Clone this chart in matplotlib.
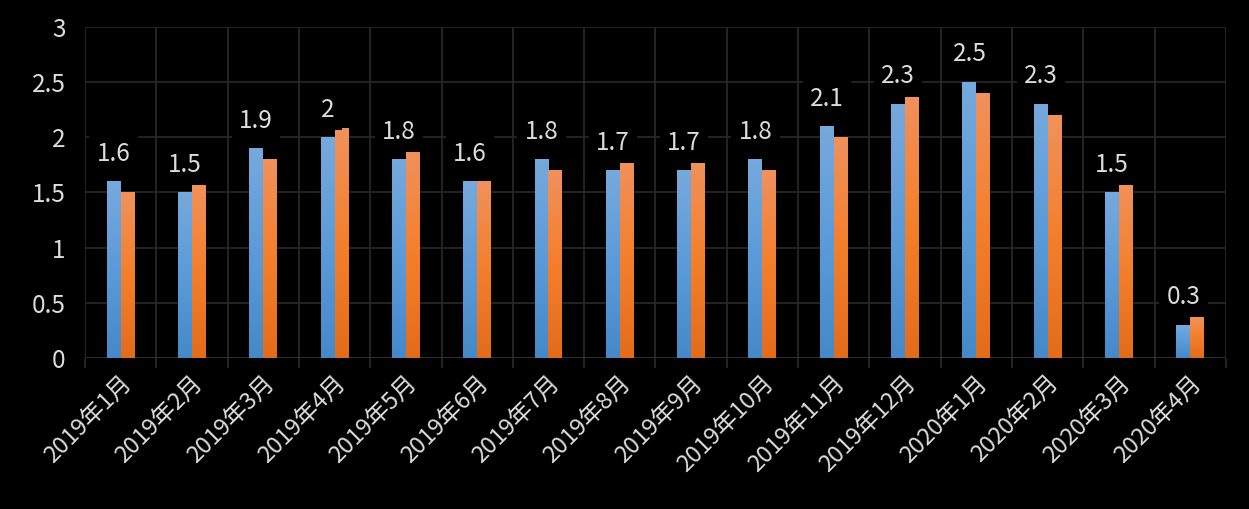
import matplotlib.pyplot as plt
import numpy as np
from matplotlib.colors import LinearSegmentedColormap

plt.rcParams['font.family'] = ['Noto Sans CJK SC', 'DejaVu Sans']

MONTHS = [
    "2019年1月", "2019年2月", "2019年3月", "2019年4月", "2019年5月", "2019年6月",
    "2019年7月", "2019年8月", "2019年9月", "2019年10月", "2019年11月", "2019年12月",
    "2020年1月", "2020年2月", "2020年3月", "2020年4月",
]
SERIES_A = [1.6, 1.5, 1.9, 2.0, 1.8, 1.6, 1.8, 1.7, 1.7, 1.8, 2.1, 2.3, 2.5, 2.3, 1.5, 0.3]
SERIES_B = [1.5, 1.58, 1.8, 2.08, 1.88, 1.6, 1.7, 1.78, 1.78, 1.7, 2.0, 2.38, 2.4, 2.2, 1.58, 0.38]
Y_TICKS = [0, 0.5, 1, 1.5, 2, 2.5, 3]

BG = "#000000"
FG = "#dcdcdc"
GRID = "#2a2a2a"

blue_cmap = LinearSegmentedColormap.from_list("blue", ["#4589c9", "#5b9bd9", "#76a9dd"])
orange_cmap = LinearSegmentedColormap.from_list("orange", ["#e36c1b", "#f47f2b", "#f1915d"])

fig = plt.figure(figsize=(12.49, 5.09), dpi=100)
fig.patch.set_facecolor(BG)
ax = fig.add_axes([0.068, 0.2967, 0.9136, 0.6503])
ax.set_facecolor(BG)

x = np.arange(len(MONTHS))
width = 0.196
grad = np.linspace(0, 1, 256).reshape(-1, 1)


def gradient_bars(xs, values, cmap):
    bars = ax.bar(xs, values, width=width, color="none", edgecolor="none", zorder=3)
    for bar in bars:
        x0, y0 = bar.get_x(), bar.get_y()
        w, h = bar.get_width(), bar.get_height()
        im = ax.imshow(grad, cmap=cmap, origin="lower", aspect="auto",
                       extent=(x0, x0 + w, y0, y0 + h), zorder=3,
                       interpolation="bilinear")
        im.set_clip_path(bar)
    return bars


gradient_bars(x - width / 2, SERIES_A, blue_cmap)
gradient_bars(x + width / 2, SERIES_B, orange_cmap)

# Value labels above the first series
for xi, v in zip(x - width / 2, SERIES_A):
    ax.annotate(
        f"{v:g}", xy=(xi, v), xytext=(0, 20), textcoords="offset points",
        ha="center", va="center", color=FG, fontsize=17.5, zorder=5,
        bbox=dict(boxstyle="square,pad=0.3", facecolor=BG, edgecolor="none"),
    )

ax.set_xlim(-0.5, len(MONTHS) - 0.5)
ax.set_ylim(0, 3)
ax.set_yticks(Y_TICKS)
ax.set_yticklabels([f"{t:g}" for t in Y_TICKS])
ax.set_xticks(x)
ax.set_xticklabels(MONTHS, rotation=45, ha="right", rotation_mode="anchor")
ax.set_xticks(np.arange(-0.5, len(MONTHS)), minor=True)

ax.tick_params(axis="x", which="major", length=0, pad=10, colors=FG, labelsize=17)
ax.tick_params(axis="x", which="minor", length=7, width=1.2, color=GRID, direction="out")
ax.tick_params(axis="y", length=0, pad=14, colors=FG, labelsize=17.5)

ax.grid(axis="y", color=GRID, linewidth=1.2, zorder=0)
ax.grid(axis="x", which="minor", color=GRID, linewidth=1.2, zorder=0)
ax.grid(axis="x", which="major", visible=False)
ax.set_axisbelow(True)
for s in ax.spines.values():
    s.set_visible(False)
ax.axhline(0, color="#333333", linewidth=1.2, zorder=2)

fig.savefig("out.png", facecolor=BG)
